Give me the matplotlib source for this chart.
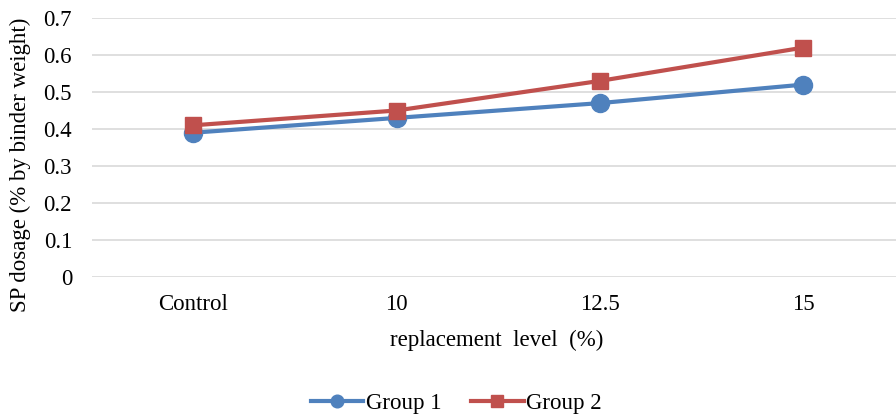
import matplotlib
matplotlib.use("Agg")
import matplotlib.pyplot as plt
from matplotlib.ticker import MultipleLocator, FuncFormatter

categories = ["Control", "10", "12.5", "15"]
group1 = [0.39, 0.43, 0.47, 0.52]
group2 = [0.41, 0.45, 0.53, 0.62]

plt.rcParams["font.family"] = ["Liberation Serif", "DejaVu Serif"]
FS = 16.5

W, H = 896, 420
fig = plt.figure(figsize=(W / 100, H / 100), dpi=100)
ax = fig.add_axes([91.5 / W, 1 - 277 / H, (905 - 91.5) / W, (277 - 18) / H])

x = list(range(len(categories)))
l1, = ax.plot(x, group1, color="#4F81BD", lw=3, marker="o", ms=13,
              label="Group 1", zorder=3)
l2, = ax.plot(x, group2, color="#C0504D", lw=3, marker="s", ms=11.5,
              label="Group 2", zorder=4)

ax.set_xlim(-0.5, len(categories) - 0.5)
ax.set_ylim(0, 0.7)
ax.yaxis.set_major_locator(MultipleLocator(0.1))
ax.yaxis.set_major_formatter(FuncFormatter(
    lambda v, p: "0" if abs(v) < 1e-9 else f"{v:.1f}"))
ax.set_xticks(x)
ax.set_xticklabels(categories)
ax.grid(axis="y", color="#D9D9D9", lw=1.2)
ax.set_axisbelow(True)
for s in ax.spines.values():
    s.set_visible(False)
ax.tick_params(length=0, labelsize=FS, colors="black")
ax.tick_params(axis="y", pad=14)
ax.tick_params(axis="x", pad=12)

fig.text(20 / W, 1 - 165 / H, "SP dosage (% by binder weight)", rotation=90,
         ha="center", va="center", fontsize=FS)
fig.text(497 / W, 1 - 340 / H, "replacement  level  (%)", ha="center",
         va="center", fontsize=FS)

fig.legend(handles=[l1, l2], loc="center", bbox_to_anchor=(456 / W, 1 - 403 / H),
           ncol=2, frameon=False, fontsize=FS, handlelength=2.3,
           columnspacing=1.3, handletextpad=0.1, markerscale=0.7)

fig.savefig("out.png", dpi=100)
